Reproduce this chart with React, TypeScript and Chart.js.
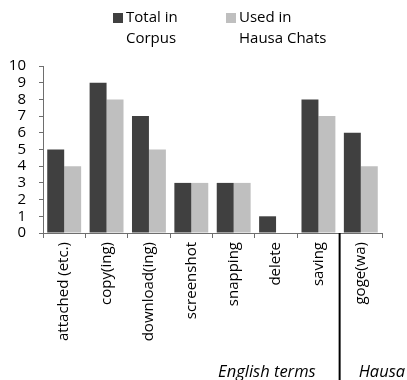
import React, { useEffect, useRef } from "react";
import { Chart, registerables } from "chart.js";

Chart.register(...registerables);

// Terms and how often each occurs
const terms = [
  "attached (etc.)",
  "copy(ing)",
  "download(ing)",
  "screenshot",
  "snapping",
  "delete",
  "saving",
  "goge(wa)",
];
const totalInCorpus = [5, 9, 7, 3, 3, 1, 8, 6];
const usedInHausaChats = [4, 8, 5, 3, 3, 0, 7, 4];

const seriesNames = [["Total in", "Corpus"], ["Used in", "Hausa Chats"]];
const groupNames = ["English terms", "Hausa"];

const DARK = "#404040";
const LIGHT = "#bfbfbf";
const AXIS = "#6e6e6e";
const FONT = "'Open Sans', Lato, sans-serif";

// Draws the two-line legend, the English/Hausa divider and the group captions
const decorations = {
  id: "decorations",
  afterDraw(chart: any) {
    const { ctx, chartArea } = chart;
    const x = chart.scales.x;
    ctx.save();

    // legend
    const legendX = [113, 226];
    const colors = [DARK, LIGHT];
    ctx.font = `15px ${FONT}`;
    ctx.textBaseline = "middle";
    ctx.textAlign = "left";
    seriesNames.forEach((lines, i) => {
      ctx.fillStyle = colors[i];
      ctx.fillRect(legendX[i], 13, 10, 10);
      ctx.fillStyle = "#000";
      lines.forEach((t, j) => ctx.fillText(t, legendX[i] + 13, 18 + j * 21));
    });

    // divider between the English terms and the Hausa term
    const sep =
      (x.getPixelForValue(terms.length - 2) + x.getPixelForValue(terms.length - 1)) / 2;
    ctx.strokeStyle = "#000";
    ctx.lineWidth = 2;
    ctx.beginPath();
    ctx.moveTo(sep, chartArea.bottom);
    ctx.lineTo(sep, chart.height);
    ctx.stroke();

    // group captions
    ctx.font = `italic 16.5px ${FONT}`;
    ctx.textBaseline = "alphabetic";
    ctx.textAlign = "right";
    ctx.fillText(groupNames[0], sep - 24, 377);
    ctx.textAlign = "left";
    ctx.fillText(groupNames[1], sep + 19, 377);
    ctx.restore();
  },
};

export default function App() {
  const ref = useRef<HTMLCanvasElement>(null);

  useEffect(() => {
    const chart = new Chart(ref.current!, {
      type: "bar",
      data: {
        labels: terms,
        datasets: [
          {
            label: "Total in Corpus",
            data: totalInCorpus,
            backgroundColor: DARK,
            barPercentage: 1,
            categoryPercentage: 0.8,
          },
          {
            label: "Used in Hausa Chats",
            data: usedInHausaChats,
            backgroundColor: LIGHT,
            barPercentage: 1,
            categoryPercentage: 0.8,
          },
        ],
      },
      options: {
        animation: false,
        responsive: false,
        maintainAspectRatio: false,
        layout: { padding: { top: 66, right: 25, left: 0, bottom: 0 } },
        plugins: { legend: { display: false }, tooltip: { enabled: false } },
        scales: {
          x: {
            grid: {
              offset: true,
              drawOnChartArea: false,
              drawTicks: true,
              tickLength: 5,
              color: AXIS,
            },
            border: { color: AXIS, width: 1 },
            ticks: {
              color: "#000",
              font: { family: FONT, size: 15 },
              minRotation: 90,
              maxRotation: 90,
              autoSkip: false,
              padding: 4,
            },
            afterFit(scale: any) {
              scale.height = 147;
            },
          },
          y: {
            min: 0,
            max: 10,
            grid: {
              drawOnChartArea: false,
              drawTicks: true,
              tickLength: 4,
              color: AXIS,
            },
            border: { color: AXIS, width: 1 },
            ticks: {
              stepSize: 1,
              autoSkip: false,
              color: "#000",
              font: { family: FONT, size: 15 },
              padding: 13,
            },
            afterFit(scale: any) {
              scale.width = 43;
            },
          },
        },
      },
      plugins: [decorations],
    });
    return () => chart.destroy();
  }, []);

  return (
    <div style={{ position: "fixed", left: 0, top: 0, width: 407, height: 380, background: "#fff" }}>
      <canvas ref={ref} width={407} height={380} />
    </div>
  );
}
